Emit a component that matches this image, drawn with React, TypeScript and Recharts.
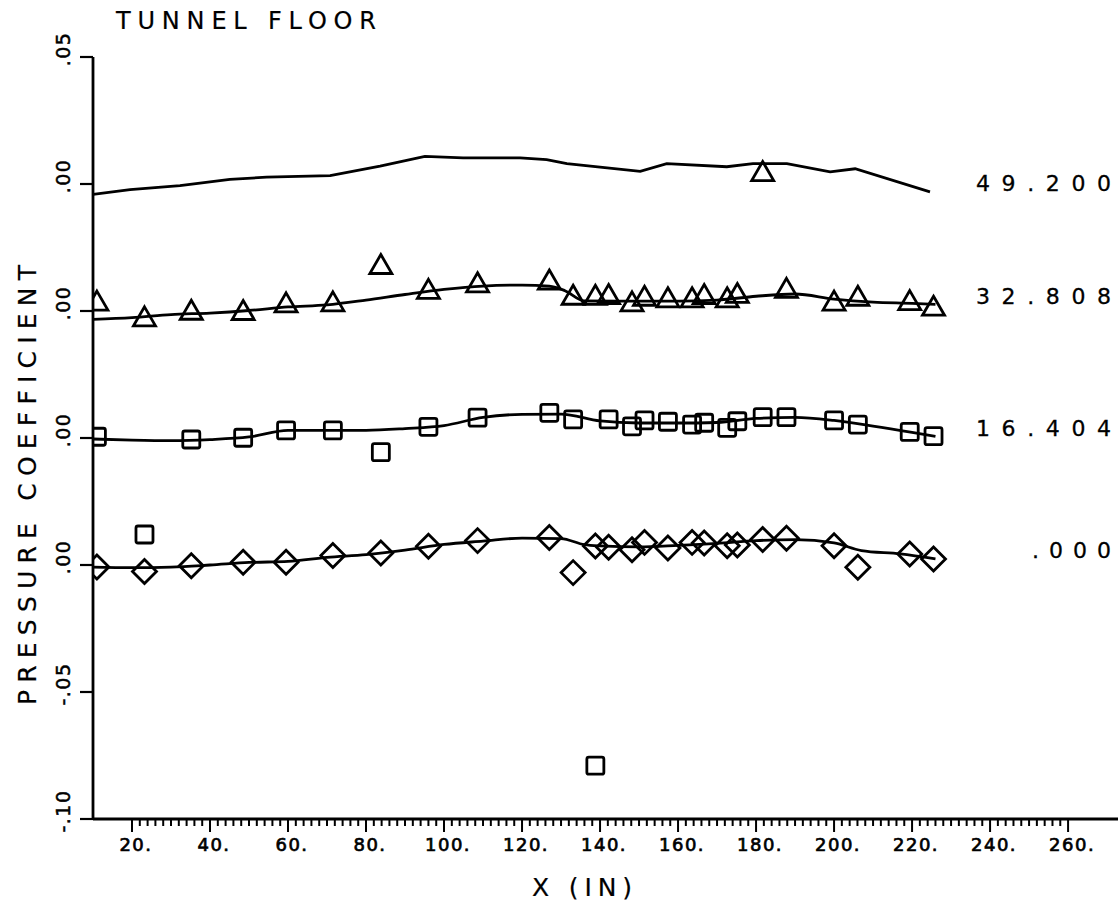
import React from 'react'
import { ComposedChart, Line, Scatter, XAxis, YAxis, LabelList } from 'recharts'

// measurement stations along the floor (in)
const stations = [
  11.0, 23.2, 35.2, 48.5, 59.5, 71.5, 83.8, 96.0, 108.6, 127.0, 133.1, 138.8, 142.2,
  148.2, 151.4, 157.4, 163.6, 166.7, 172.6, 175.2, 181.7, 187.8, 200.0, 206.1, 219.4, 225.5,
]

// measured Cp at each station, one list per run
const diamondCp = [
  -0.0008, -0.0026, -0.0003, 0.0011, 0.0011, 0.0037, 0.0047, 0.0074, 0.0096, 0.0108, -0.003, 0.0075, 0.007,
  0.006, 0.0089, 0.0067, 0.0089, 0.0087, 0.0076, 0.0079, 0.01, 0.0105, 0.0076, -0.0009, 0.0043, 0.0024,
]
const squareCp = [
  0.0005, -0.038, -0.0006, 0.0001, 0.003, 0.003, -0.0056, 0.0044, 0.008, 0.0099, 0.0073, -0.129, 0.0073,
  0.0046, 0.0069, 0.0064, 0.0053, 0.006, 0.004, 0.0066, 0.0082, 0.0082, 0.0069, 0.0053, 0.0024, 0.0007,
]
const triangleCp = [
  0.0039, -0.0023, 0.0003, 0.0002, 0.0032, 0.0036, 0.0183, 0.0085, 0.0111, 0.0122, 0.0062, 0.0062, 0.0065,
  0.0036, 0.0058, 0.0052, 0.0052, 0.0065, 0.0052, 0.0069, 0.0549, 0.0089, 0.0039, 0.0058, 0.0041, 0.0019,
]

// fitted curves
const diamondFitX = [10, 20, 30, 40, 50, 60, 70, 80, 90, 100, 110, 120, 130, 136, 140, 150, 160, 170, 180, 190, 200, 207, 217, 226]
const diamondFit = [
  -0.0008, -0.001, -0.0008, 0.0, 0.001, 0.0014, 0.003, 0.0041, 0.0059, 0.0081, 0.0094, 0.0106, 0.0104, 0.008,
  0.0075, 0.0071, 0.0077, 0.0085, 0.0096, 0.01, 0.0087, 0.0057, 0.0044, 0.0024,
]
const squareFitX = [10, 20, 30, 40, 50, 60, 70, 80, 90, 100, 110, 120, 130, 140, 150, 160, 170, 180, 190, 200, 210, 220, 226]
const squareFit = [
  -0.0004, -0.0008, -0.001, -0.0006, 0.0004, 0.003, 0.003, 0.003, 0.0037, 0.0049, 0.0081, 0.0093, 0.0094,
  0.0067, 0.0059, 0.0059, 0.0061, 0.0077, 0.0081, 0.0069, 0.0047, 0.0022, 0.0006,
]
const triangleFitX = [10, 20, 30, 40, 50, 60, 70, 80, 90, 100, 110, 120, 127, 131, 136, 150, 160, 170, 180, 190, 200, 210, 220, 226]
const triangleFit = [
  -0.0033, -0.0026, -0.0014, -0.0008, 0.0002, 0.0016, 0.0024, 0.0043, 0.0065, 0.0085, 0.0098, 0.0102, 0.0098,
  0.008, 0.004, 0.0039, 0.0039, 0.0043, 0.0058, 0.0067, 0.0047, 0.0035, 0.003, 0.0026,
]
const topFitX = [10, 19.5, 32.3, 45.1, 54.5, 70.8, 83.6, 95.1, 104.9, 119.5, 126.3, 131.5, 150.3, 157.1, 172.5, 179.2, 187.9, 199, 205.4, 224.6]
const topFit = [
  -0.0041, -0.0022, -0.0006, 0.0018, 0.0027, 0.0033, 0.007, 0.0109, 0.0103, 0.0103, 0.0096, 0.008, 0.005,
  0.008, 0.0068, 0.008, 0.008, 0.0048, 0.006, -0.0031,
]

const seriesLabels = ['.000', '16.404', '32.808', '49.200']
const seriesOffsets = [0, 0.05, 0.1, 0.15]

const yTicks = [-0.1, -0.05, 0, 0.05, 0.1, 0.15, 0.2]
const yTickLabels = ['-.10', '-.05', '.00', '.00', '.00', '.00', '.05']

const xTicks: number[] = []
for (let v = 20; v <= 260; v += 2) xTicks.push(v)

const FONT = '"DejaVu Sans", sans-serif'

const pts = (xs: number[], ys: number[], off: number) => xs.map((x, i) => ({ x, y: ys[i] + off }))

const diamondPts = pts(stations, diamondCp, seriesOffsets[0])
const squarePts = pts(stations, squareCp, seriesOffsets[1])
const trianglePts = pts(stations, triangleCp, seriesOffsets[2])

const fits = [
  pts(diamondFitX, diamondFit, seriesOffsets[0]),
  pts(squareFitX, squareFit, seriesOffsets[1]),
  pts(triangleFitX, triangleFit, seriesOffsets[2]),
  pts(topFitX, topFit, seriesOffsets[3]),
]

const mark = { fill: 'none', stroke: '#000', strokeWidth: 2.8 }

const Diamond = (p: any) => {
  const { cx, cy } = p
  const r = 12
  return <polygon points={`${cx},${cy - r} ${cx + r},${cy} ${cx},${cy + r} ${cx - r},${cy}`} {...mark} />
}
const Square = (p: any) => {
  const { cx, cy } = p
  return <rect x={cx - 8.5} y={cy - 8.5} width={17} height={17} rx={2} {...mark} />
}
const Triangle = (p: any) => {
  const { cx, cy } = p
  return <polygon points={`${cx},${cy - 10} ${cx + 11},${cy + 9} ${cx - 11},${cy + 9}`} {...mark} />
}

const XTick = (p: any) => {
  const { x, y, payload } = p
  const v = payload.value
  const major = v % 20 === 0
  return (
    <g>
      <line x1={x} x2={x} y1={y} y2={y + (major ? 13 : 7)} stroke="#000" strokeWidth={2} />
      {major && (
        <text
          x={x + 4}
          y={y + 32}
          textAnchor="middle"
          fontFamily={FONT}
          fontSize={18}
          letterSpacing={1.5}
          stroke="#000"
          strokeWidth={0.7}
          fill="#000"
        >
          {`${v}.`}
        </text>
      )}
    </g>
  )
}

const YTick = (p: any) => {
  const { y, payload } = p
  const idx = yTicks.findIndex((t) => Math.abs(t - payload.value) < 1e-6)
  const cy = y - 8
  return (
    <text
      x={63}
      y={cy}
      transform={`rotate(-90 63 ${cy})`}
      textAnchor="middle"
      dominantBaseline="central"
      fontFamily={FONT}
      fontSize={19}
      letterSpacing={1.5}
      stroke="#000"
      strokeWidth={0.5}
      fill="#000"
    >
      {yTickLabels[idx]}
    </text>
  )
}

const endLabel = (n: number, text: string) => (p: any) => {
  if (p.index !== n - 1) return null
  const wide = text.length > 4
  return (
    <text
      x={1111}
      y={p.y - 8}
      textAnchor="end"
      dominantBaseline="central"
      fontFamily={FONT}
      fontSize={22}
      textLength={wide ? 135 : 79}
      lengthAdjust="spacing"
      stroke="#000"
      strokeWidth={0.3}
      fill="#000"
    >
      {text}
    </text>
  )
}

export default function App() {
  return (
    <div style={{ position: 'absolute', left: 0, top: 0, background: '#fff' }}>
      <ComposedChart width={1120} height={904} margin={{ top: 57, right: 2, bottom: 0, left: 0 }}>
        <XAxis
          type="number"
          dataKey="x"
          domain={[10, 272.8]}
          allowDataOverflow
          ticks={xTicks}
          interval={0}
          tick={<XTick />}
          tickLine={false}
          tickSize={0}
          tickMargin={0}
          height={85}
          axisLine={{ stroke: '#000', strokeWidth: 2.8 }}
        />
        <YAxis
          type="number"
          dataKey="y"
          domain={[-0.1, 0.2]}
          allowDataOverflow
          ticks={yTicks}
          interval={0}
          tick={<YTick />}
          tickSize={13}
          tickLine={{ stroke: '#000', strokeWidth: 2.2 }}
          width={93}
          axisLine={{ stroke: '#000', strokeWidth: 2.8 }}
        />
        {fits.map((d, i) => (
          <Line
            key={seriesLabels[i]}
            data={d}
            dataKey="y"
            type={i === 3 ? 'linear' : 'monotone'}
            stroke="#000"
            strokeWidth={2.8}
            dot={false}
            isAnimationActive={false}
          >
            <LabelList dataKey="y" content={endLabel(d.length, seriesLabels[i])} />
          </Line>
        ))}
        <Scatter data={diamondPts} shape={Diamond} isAnimationActive={false} />
        <Scatter data={squarePts} shape={Square} isAnimationActive={false} />
        <Scatter data={trianglePts} shape={Triangle} isAnimationActive={false} />
        <text
          x={116}
          y={29}
          fontFamily={FONT}
          fontSize={24}
          textLength={260}
          lengthAdjust="spacing"
          stroke="#000"
          strokeWidth={0.2}
          fill="#000"
        >
          TUNNEL  FLOOR
        </text>
        <text
          x={532}
          y={896}
          fontFamily={FONT}
          fontSize={25}
          textLength={100}
          lengthAdjust="spacing"
          stroke="#000"
          strokeWidth={0.2}
          fill="#000"
        >
          X  (IN)
        </text>
        <text
          x={27}
          y={485}
          transform="rotate(-90 27 485)"
          textAnchor="middle"
          dominantBaseline="central"
          fontFamily={FONT}
          fontSize={25}
          textLength={440}
          lengthAdjust="spacing"
          stroke="#000"
          strokeWidth={0.2}
          fill="#000"
        >
          PRESSURE  COEFFICIENT
        </text>
      </ComposedChart>
    </div>
  )
}
